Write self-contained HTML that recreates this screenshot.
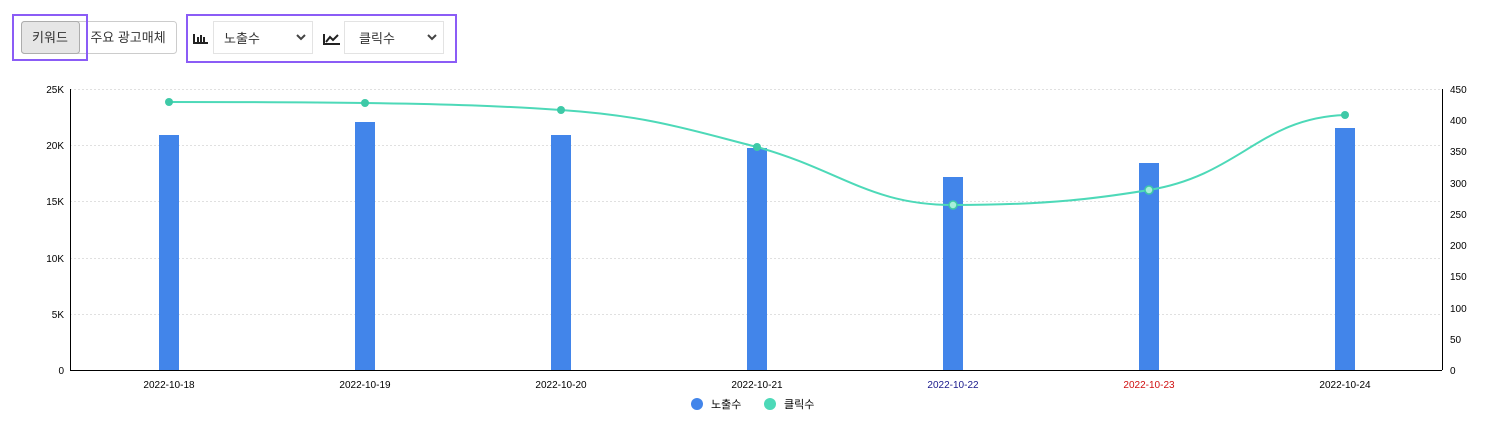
<!DOCTYPE html><html><head><meta charset="utf-8"><style>
body{margin:0;width:1500px;height:442px;background:#fff;font-family:"Liberation Sans","Noto Sans CJK KR",sans-serif;overflow:hidden}
</style></head><body>
<svg width="1500" height="442" xmlns="http://www.w3.org/2000/svg" style="position:absolute;left:0;top:0;font-family:'Liberation Sans','Noto Sans CJK KR',sans-serif">
<!-- controls -->
<rect x="21.5" y="21.5" width="155" height="32" rx="3" fill="#fff" stroke="#ccc"/>
<rect x="21.5" y="21.5" width="58" height="32" rx="3" fill="#e6e6e6" stroke="#adadad"/>
<text x="50" y="42" font-size="13" text-anchor="middle" fill="#333">키워드</text>
<text x="128" y="42" font-size="13" text-anchor="middle" fill="#333">주요 광고매체</text>
<rect x="13" y="15" width="74" height="45" fill="none" stroke="#8b5cf6" stroke-width="2"/>
<rect x="187" y="15" width="269" height="47" fill="none" stroke="#8b5cf6" stroke-width="2"/>
<g fill="#222"><rect x="193" y="34" width="2" height="10"/><rect x="193" y="42" width="15" height="2"/><rect x="197" y="37" width="2" height="5"/><rect x="200" y="35" width="2" height="7"/><rect x="203" y="37" width="2" height="5"/></g>
<rect x="213.5" y="21.5" width="99" height="32" fill="#fff" stroke="#e3e3e3"/>
<text x="242" y="43" font-size="13" text-anchor="middle" fill="#333">노출수</text>
<path d="M297 35l4 4 4-4" fill="none" stroke="#444" stroke-width="2"/>
<g fill="none" stroke="#222" stroke-width="2"><path d="M324 34v10h16"/><path d="M326 42l4-5 3 3 5-5"/></g>
<rect x="344.5" y="21.5" width="99" height="32" fill="#fff" stroke="#e3e3e3"/>
<text x="377" y="43" font-size="13" text-anchor="middle" fill="#333">클릭수</text>
<path d="M428 35l4 4 4-4" fill="none" stroke="#444" stroke-width="2"/>
<!-- grid -->
<g stroke="#e0e0e0" stroke-dasharray="2,2">
<line x1="70" x2="1442" y1="89.5" y2="89.5"/><line x1="70" x2="1442" y1="145.5" y2="145.5"/><line x1="70" x2="1442" y1="201.5" y2="201.5"/><line x1="70" x2="1442" y1="258.5" y2="258.5"/><line x1="70" x2="1442" y1="314.5" y2="314.5"/></g>
<line x1="70.5" y1="89" x2="70.5" y2="370" stroke="#000"/>
<line x1="1442.5" y1="89" x2="1442.5" y2="370" stroke="#000"/>
<line x1="70" y1="370.5" x2="1442" y2="370.5" stroke="#000"/>
<g font-size="10" fill="#000" text-anchor="end">
<text x="64" y="93">25K</text><text x="64" y="149">20K</text><text x="64" y="205">15K</text><text x="64" y="262">10K</text><text x="64" y="318">5K</text><text x="64" y="374">0</text></g>
<g font-size="10" fill="#000">
<text x="1450" y="93">450</text><text x="1450" y="124">400</text><text x="1450" y="155">350</text><text x="1450" y="187">300</text><text x="1450" y="218">250</text><text x="1450" y="249">200</text><text x="1450" y="280">150</text><text x="1450" y="312">100</text><text x="1450" y="343">50</text><text x="1450" y="374">0</text></g>
<g fill="#4285ea">
<rect x="159" y="135" width="20" height="235"/><rect x="355" y="122" width="20" height="248"/><rect x="551" y="135" width="20" height="235"/><rect x="747" y="148" width="20" height="222"/><rect x="943" y="177" width="20" height="193"/><rect x="1139" y="163" width="20" height="207"/><rect x="1335" y="128" width="20" height="242"/></g>
<g font-size="10" text-anchor="middle" fill="#000">
<text x="169" y="388">2022-10-18</text><text x="365" y="388">2022-10-19</text><text x="561" y="388">2022-10-20</text><text x="757" y="388">2022-10-21</text><text x="953" y="388" fill="#1a1a8c">2022-10-22</text><text x="1149" y="388" fill="#d01010">2022-10-23</text><text x="1345" y="388">2022-10-24</text></g>
<path d="M169 102 C250 102 300 102 365 103 C450 104 500 106 561 110 C650 116 690 130 757 147 C840 170 870 205 953 205 C1050 205 1100 198 1149 190 C1240 175 1260 118 1345 115" fill="none" stroke="#4dd9b8" stroke-width="2"/>
<g fill="#3ec9a7"><circle cx="169" cy="102" r="4"/><circle cx="365" cy="103" r="4"/><circle cx="561" cy="110" r="4"/><circle cx="757" cy="147" r="4"/><circle cx="1345" cy="115" r="4"/></g>
<g fill="#a7efd9" stroke="#3ec9a7" stroke-width="1.5"><circle cx="953" cy="205" r="4"/><circle cx="1149" cy="190" r="4"/></g>
<circle cx="697" cy="404" r="6" fill="#4285ea"/><text x="711" y="408" font-size="11">노출수</text>
<circle cx="770" cy="404" r="6" fill="#4dd9b8"/><text x="784" y="408" font-size="11">클릭수</text>
</svg></body></html>
